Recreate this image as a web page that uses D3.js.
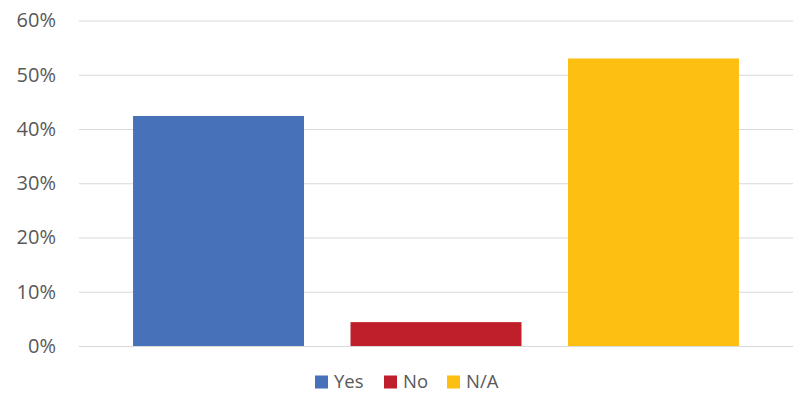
<!DOCTYPE html>
<html><head><meta charset="utf-8">
<script src="https://cdn.jsdelivr.net/npm/d3@7"></script>
<style>body{margin:0;background:#fff}svg{display:block}</style>
</head><body>
<script>
const categories = ["Yes", "No", "N/A"];
const values = [0.424, 0.044, 0.530];
const colors = ["#4771B9", "#BF1E2B", "#FCBF12"];
const yTicks = [0, 0.1, 0.2, 0.3, 0.4, 0.5, 0.6];

const W = 801, H = 393;
const svg = d3.select("body").append("svg").attr("width", W).attr("height", H);
const x = d3.scaleBand().domain(categories).range([79, 793]).paddingInner(0.2138).paddingOuter(0.2485);
const y = d3.scaleLinear().domain([0, 0.6]).range([346, 20.5]);

const font = "'Open Sans', sans-serif";
const yAxis = d3.axisLeft(y).tickValues(yTicks).tickFormat(d3.format(".0%")).tickSize(-(793 - 79)).tickPadding(23);
const g = svg.append("g").attr("transform", "translate(79,0)").call(yAxis);
g.select(".domain").remove();
g.selectAll(".tick line").attr("stroke", "#d9d9d9").attr("stroke-width", 1);
g.selectAll(".tick text").attr("fill", "#595959").style("font-family", font).style("font-size", "20px");

svg.append("g").selectAll("rect").data(categories).join("rect")
  .attr("x", d => x(d)).attr("width", x.bandwidth())
  .attr("y", (d, i) => y(values[i])).attr("height", (d, i) => y(0) - y(values[i]))
  .attr("fill", (d, i) => colors[i]);

// legend
const legendX = [315, 384, 447];
const lg = svg.append("g");
categories.forEach((c, i) => {
  lg.append("rect").attr("x", legendX[i]).attr("y", 375.5).attr("width", 13).attr("height", 13).attr("fill", colors[i]);
  lg.append("text").attr("x", legendX[i] + 19).attr("y", 388).text(c)
    .attr("fill", "#595959").style("font-family", font).style("font-size", "18.5px");
});
</script>
</body></html>
